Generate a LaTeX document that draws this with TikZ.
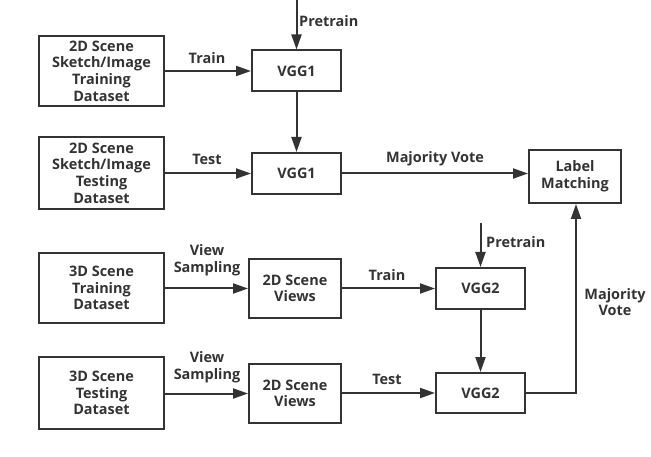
\documentclass[tikz,border=0pt]{standalone}
\usepackage{fontspec}
\setmainfont{Open Sans}
\usetikzlibrary{arrows.meta}
\definecolor{ln}{HTML}{333333}
\begin{document}
\begin{tikzpicture}[x=1bp,y=-1bp,
  box/.style={draw=ln,line width=2bp,align=center,inner sep=0pt,font=\bfseries\fontsize{14.5}{16.7}\selectfont,text=ln},
  lbl/.style={align=center,inner sep=0pt,font=\bfseries\fontsize{14.5}{16.7}\selectfont,text=ln},
  conn/.style={draw=ln,line width=2bp,-{Triangle[length=15bp,width=10bp]}}]
\useasboundingbox (0,0) rectangle (651,457);
\node[box,minimum width=125bp,minimum height=70bp] (A) at (101.5,71) {2D Scene\\Sketch/Image\\Training\\Dataset};
\node[box,minimum width=125bp,minimum height=72bp] (B) at (101.5,173) {2D Scene\\Sketch/Image\\Testing\\Dataset};
\node[box,minimum width=89bp,minimum height=41bp] (V1a) at (296.5,71) {VGG1};
\node[box,minimum width=89bp,minimum height=41bp] (V1b) at (296.5,173.5) {VGG1};
\node[box,minimum width=92bp,minimum height=53bp] (LM) at (575,176.5) {Label\\Matching};
\node[box,minimum width=125bp,minimum height=70bp] (C) at (101.5,288) {3D Scene\\Training\\Dataset};
\node[box,minimum width=125bp,minimum height=72bp] (D) at (101.5,393) {3D Scene\\Testing\\Dataset};
\node[box,minimum width=92bp,minimum height=59bp] (W1) at (295,288.5) {2D Scene\\Views};
\node[box,minimum width=92bp,minimum height=59bp] (W2) at (295,393.5) {2D Scene\\Views};
\node[box,minimum width=89bp,minimum height=41bp] (V2a) at (480.5,288.5) {VGG2};
\node[box,minimum width=89bp,minimum height=40bp] (V2b) at (480.5,393) {VGG2};
\coordinate (P1) at (296.5,0);
\coordinate (P2) at (480.5,223);
\coordinate (K) at (576,393);
\draw[conn] (P1) -- (V1a.north);
\draw[conn] (A.east) -- (V1a.west);
\draw[conn] (V1a.south) -- (V1b.north);
\draw[conn] (B.east|-V1b.west) -- (V1b.west);
\draw[conn] (V1b.east) -- (LM.west|-V1b.east);
\draw[conn] (C.east|-W1.west) -- (W1.west);
\draw[conn] (D.east|-W2.west) -- (W2.west);
\draw[conn] (W1.east) -- (V2a.west);
\draw[conn] (W2.east|-V2b.west) -- (V2b.west);
\draw[conn] (P2) -- (V2a.north);
\draw[conn] (V2a.south) -- (V2b.north);
\draw[conn] (V2b.east) -- (K) -- (K|-LM.south);
\node[lbl,anchor=west] (t1) at (299,21) {Pretrain};
\node[lbl] (t2) at (207,58) {Train};
\node[lbl] (t3) at (207,159) {Test};
\node[lbl] (t4) at (435,159) {Majority Vote};
\node[lbl] (t5) at (207,260) {View\\Sampling};
\node[lbl] (t6) at (207,367) {View\\Sampling};
\node[lbl,anchor=west] (t7) at (486,242) {Pretrain};
\node[lbl] (t8) at (387,275) {Train};
\node[lbl] (t9) at (387,379) {Test};
\node[lbl] (t10) at (615,302) {Majority\\Vote};
\end{tikzpicture}
\end{document}
